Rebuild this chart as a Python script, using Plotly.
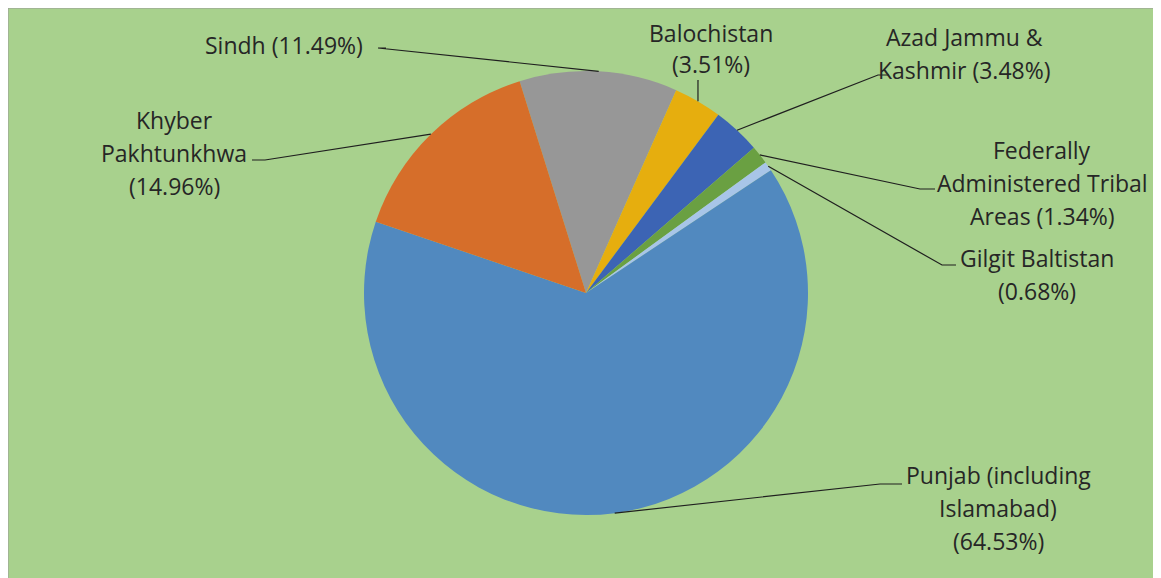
import math
import textwrap
import plotly.graph_objects as go

# ---------------- data ----------------
categories = [
    "Sindh",
    "Balochistan",
    "Azad Jammu & Kashmir",
    "Federally Administered Tribal Areas",
    "Gilgit Baltistan",
    "Punjab (including Islamabad)",
    "Khyber Pakhtunkhwa",
]
shares = [11.49, 3.51, 3.48, 1.34, 0.68, 64.53, 14.96]
colors = ["#979797", "#E6AE0E", "#3C64B4", "#6AA042", "#A8C5E8", "#5189BF", "#D66E2A"]

# ---------------- layout constants ----------------
OFF = 8                              # page body margin
W, H = 1161 - OFF, 578 - OFF         # figure size
CX, CY, R = 586, 293, 222            # pie centre / radius in page pixels
ROT = -17.4                          # start angle of first slice (deg, from 12 o'clock)
BG = "#A8D18D"
TXT = "#262626"
FONT = "Open Sans"
FS = 23
LINE_H = 33

# per-label: wrap width, centre x, first-line y, line height, leader elbow points (page pixels)
label_cfg = [
    dict(wrap=30, cx=284, y=45, lh=LINE_H, path=[(378, 48), (386, 48)]),
    dict(wrap=12, cx=711, y=33, lh=31, path=[(698, 80)]),
    dict(wrap=15, cx=964, y=37, lh=LINE_H, path=[(878, 75), (889, 75)]),
    dict(wrap=19, cx=1042, y=150, lh=LINE_H, path=[(920, 189), (935, 189)]),
    dict(wrap=16, cx=1037, y=258, lh=LINE_H, path=[(942, 265), (956, 265)]),
    dict(wrap=17, cx=998, y=475, lh=LINE_H, path=[(880, 484), (902, 484)]),
    dict(wrap=11, cx=174, y=120, lh=LINE_H, path=[(265, 160), (252, 160)]),
]


def px(x):
    return (x - OFF) / W


def py(y):
    return 1 - (y - OFF) / H


total = sum(shares)
fig = go.Figure(
    go.Pie(
        labels=categories,
        values=shares,
        sort=False,
        direction="clockwise",
        rotation=ROT,
        marker=dict(colors=colors, line=dict(width=0)),
        textinfo="none",
        hoverinfo="label+percent",
        showlegend=False,
        domain=dict(x=[px(CX - R), px(CX + R)], y=[py(CY + R), py(CY - R)]),
    )
)

shapes = [
    dict(type="rect", xref="paper", yref="paper", x0=0.0, x1=1.0, y0=-0.01, y1=1.0,
         fillcolor=BG, line=dict(color="#9a9a9a", width=1), layer="below"),
]
annotations = []

cum = 0.0
for name, val, cfg in zip(categories, shares, label_cfg):
    mid = ROT + (cum + val / 2) / total * 360.0
    cum += val
    a = math.radians(mid)
    sx = CX + R * math.sin(a)
    sy = CY - R * math.cos(a)
    pts = [(sx, sy)] + cfg["path"]
    d = "M " + " L ".join(f"{px(x):.5f},{py(y):.5f}" for x, y in pts)
    shapes.append(dict(type="path", xref="paper", yref="paper", path=d,
                       line=dict(color="#1f1f1f", width=1.2), layer="above"))
    text = f"{name} ({val:.2f}%)"
    lines = textwrap.wrap(text, cfg["wrap"])
    for i, ln in enumerate(lines):
        annotations.append(dict(
            x=px(cfg["cx"]), y=py(cfg["y"] + i * cfg["lh"]), xref="paper", yref="paper",
            text=ln, showarrow=False, xanchor="center", yanchor="middle",
            font=dict(family=FONT, size=FS, color=TXT),
        ))

fig.update_layout(
    width=W, height=H, autosize=False,
    margin=dict(l=0, r=0, t=0, b=0),
    paper_bgcolor=BG,
    plot_bgcolor=BG,
    shapes=shapes,
    annotations=annotations,
)

fig.write_html("out.html", config={"displayModeBar": False})
